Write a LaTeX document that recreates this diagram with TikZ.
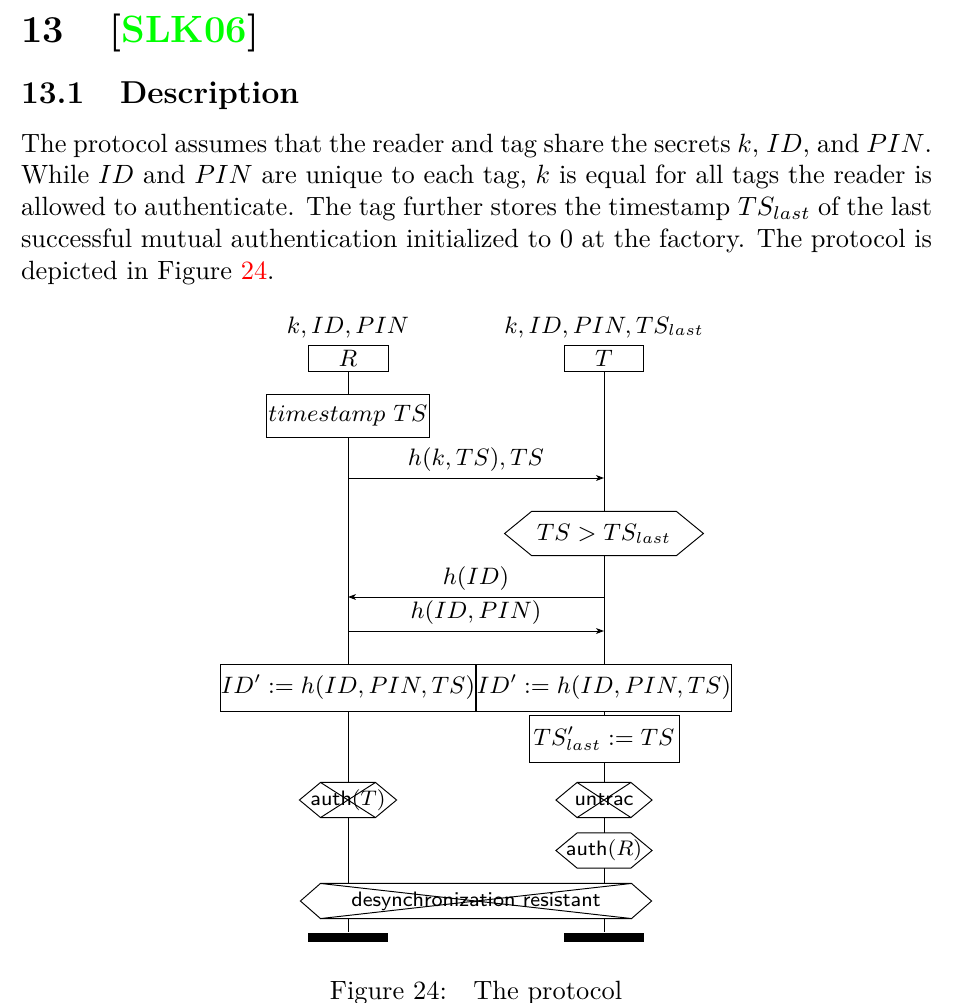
\documentclass[tikz,border=0pt]{standalone}
\usepackage{xcolor}
\usetikzlibrary{arrows.meta,calc}
\tikzset{
  dfont/.style={font=\fontsize{9}{11}\selectfont},
  sfont/.style={font=\fontsize{7.9}{10}\selectfont\sffamily},
  box/.style={draw, line width=0.36pt, inner sep=0pt, dfont},
  hexnode/.style={inner sep=0pt, minimum height=12.9pt},
  lifeline/.style={line width=0.36pt},
  msg/.style={line width=0.36pt, -{Stealth[length=3pt,width=2.2pt,inset=0.8pt]}},
  msglabel/.style={above, inner sep=2.2pt, dfont},
  endbar/.style={fill=black, draw=none, minimum width=30.3pt, minimum height=3.4pt, inner sep=0pt},
  hexline/.style={line width=0.36pt},
  plain/.style={inner sep=0pt},
}
\newcommand\drawhex[2]{\draw[hexline] (#1.north west) -- (#1.north east) -- ([xshift=#2]#1.east) -- (#1.south east) -- (#1.south west) -- ([xshift=-#2]#1.west) -- cycle;}
\newcommand\crosshex[1]{\draw[hexline] (#1.north west) -- (#1.south east) (#1.north east) -- (#1.south west);}
\begin{document}
\begin{tikzpicture}[x=0.3787pt,y=-0.3787pt]
\useasboundingbox (0,0) rectangle (958,1003);

% headings and paragraph
\node[plain, anchor=base west] (secnum) at (20.5,42) {\Large\bfseries 13};
\node[plain, anchor=base west] (sec) at (109,42) {\Large\bfseries [\textcolor{green}{SLK06}]};
\node[plain, anchor=base west] (subnum) at (20.5,103) {\large\bfseries 13.1};
\node[plain, anchor=base west] (subsec) at (119.5,103) {\large\bfseries Description};
\node[plain, anchor=base west, text width=345pt, align=justify] (para) at (20.5,152.3)
 {The protocol assumes that the reader and tag share the secrets $k$, $ID$, and $PIN$.
  While $ID$ and $PIN$ are unique to each tag, $k$ is equal for all tags the reader is
  allowed to authenticate. The tag further stores the timestamp $TS_{last}$ of the last
  successful mutual authentication initialized to 0 at the factory. The protocol is
  depicted in Figure \textcolor{red}{24}.};

% instance headers
\node[plain, dfont, anchor=base] (Rlab) at (348,333) {$k,ID,PIN$};
\node[plain, dfont, anchor=base] (Tlab) at (604,333) {$k,ID,PIN,TS_{last}$};
\node[box, minimum width=30.3pt, minimum height=9.85pt] (Rh) at (348,358) {$R$};
\node[box, minimum width=30pt, minimum height=9.85pt] (Th) at (604,358) {$T$};

% actions
\node[box, minimum width=61.4pt, minimum height=16.3pt] (ts) at (348,415.5) {$timestamp\ TS$};
\node[hexnode, dfont, minimum width=54.5pt, minimum height=16.3pt] (tshex) at (604,533.5) {\makebox[0pt]{$TS > TS_{last}$}};
\node[box, minimum width=95.5pt, minimum height=17.8pt] (IDR) at (348,687.5) {$ID' := h(ID,PIN,TS)$};
\node[box, minimum width=95.5pt, minimum height=17.8pt] (IDT) at (604,687.5) {$ID' := h(ID,PIN,TS)$};
\node[box, minimum width=56.8pt, minimum height=17.8pt] (TSl) at (604,738.5) {$TS'_{last} := TS$};

% conditions
\node[hexnode, sfont, minimum width=20.4pt] (authT) at (348,800) {\makebox[0pt]{auth$(T)$}};
\node[hexnode, sfont, minimum width=20pt] (untrac) at (604,800) {\makebox[0pt]{untrac}};
\node[hexnode, sfont, minimum width=20pt] (authR) at (604,850.5) {\makebox[0pt]{auth$(R)$}};
\node[hexnode, sfont, minimum width=117.4pt] (desync) at (476,901) {\makebox[0pt]{desynchronization resistant}};

% end bars
\node[endbar] (Rend) at (348,937.5) {};
\node[endbar] (Tend) at (604,937.5) {};

% hexagon outlines
\drawhex{tshex}{10.2pt}
\drawhex{authT}{8pt}
\crosshex{authT}
\drawhex{untrac}{8pt}
\crosshex{untrac}
\drawhex{authR}{8pt}
\drawhex{desync}{7.6pt}
\crosshex{desync}

% lifelines
\draw[lifeline] (Rh.south) -- (ts.north);
\draw[lifeline] (ts.south) -- (IDR.north);
\draw[lifeline] (IDR.south) -- (authT.north);
\draw[lifeline] (authT.south) -- (desync.north -| Rh.south);
\draw[lifeline] (desync.south -| Rh.south) -- (Rend.north);

\draw[lifeline] (Th.south) -- (tshex.north);
\draw[lifeline] (tshex.south) -- (IDT.north);
\draw[lifeline] (IDT.south) -- (TSl.north);
\draw[lifeline] (TSl.south) -- (untrac.north);
\draw[lifeline] (untrac.south) -- (authR.north);
\draw[lifeline] (authR.south) -- (desync.north -| Th.south);
\draw[lifeline] (desync.south -| Th.south) -- (Tend.north);

% messages
\coordinate (m1a) at (348,478);
\coordinate (m1b) at (604,478);
\coordinate (m2a) at (604,597);
\coordinate (m2b) at (348,597);
\coordinate (m3a) at (348,631);
\coordinate (m3b) at (604,631);
\draw[msg] (m1a) -- node[msglabel] {$h(k,TS),TS$} (m1b);
\draw[msg] (m2a) -- node[msglabel] {$h(ID)$} (m2b);
\draw[msg] (m3a) -- node[msglabel] {$h(ID,PIN)$} (m3b);

% caption
\node[plain, anchor=base] (cap) at (476,999) {Figure 24:\quad The protocol};
\end{tikzpicture}
\end{document}
